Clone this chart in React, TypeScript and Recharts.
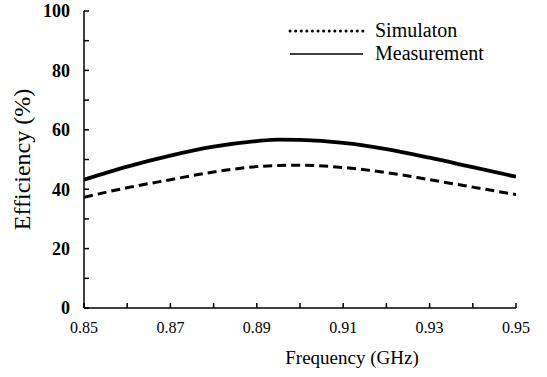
import { LineChart, Line, XAxis, YAxis } from "recharts"

const freqs = [0.85, 0.86, 0.87, 0.88, 0.89, 0.895, 0.9, 0.91, 0.92, 0.93, 0.94, 0.95]
const measurement = [43.2, 47.6, 51.3, 54.3, 56.2, 56.7, 56.6, 55.6, 53.5, 50.6, 47.4, 44.2]
const simulation = [37.3, 40.5, 43.2, 45.8, 47.6, 48.0, 48.1, 47.3, 45.6, 43.2, 40.7, 38.2]

const xTicks = [0.85, 0.86, 0.87, 0.88, 0.89, 0.9, 0.91, 0.92, 0.93, 0.94, 0.95]
const xMajor = [0.85, 0.87, 0.89, 0.91, 0.93, 0.95]
const yTicks = [0, 10, 20, 30, 40, 50, 60, 70, 80, 90, 100]
const yMajor = [0, 20, 40, 60, 80, 100]

const FONT = "Liberation Serif"

const data = freqs.map((f, i) => ({ f, meas: measurement[i], sim: simulation[i] }))

const isMajor = (list: number[], v: number) => list.some((m) => Math.abs(m - v) < 1e-6)

function LegendBox() {
  return (
    <svg width={220} height={50} style={{ position: "absolute", left: 288, top: 19 }}>
      <line x1={2} y1={12} x2={75} y2={12} stroke="#000" strokeWidth={3} strokeDasharray="0.1 5.5" strokeLinecap="round" />
      <text x={87} y={18} fontSize={20} fill="#000" fontFamily={FONT}>Simulaton</text>
      <line x1={2} y1={35} x2={75} y2={35} stroke="#000" strokeWidth={1.5} />
      <text x={87} y={41} fontSize={20} fill="#000" fontFamily={FONT}>Measurement</text>
    </svg>
  )
}

export default function App() {
  return (
    <div style={{ position: "absolute", left: 0, top: 0, width: 547, height: 377, background: "#fff", fontFamily: FONT }}>
      <LineChart width={547} height={377} data={data} margin={{ top: 11, right: 31, bottom: 0, left: 0 }}>
        <XAxis
          dataKey="f"
          type="number"
          domain={[0.85, 0.95]}
          ticks={xTicks}
          interval={0}
          allowDataOverflow
          height={69}
          stroke="#000"
          strokeWidth={1.5}
          tickSize={-5}
          tickMargin={19}
          tickFormatter={(v: number) => (isMajor(xMajor, v) ? v.toFixed(2) : "")}
          tick={{ fill: "#000", fontSize: 16, fontFamily: FONT }}
          label={{ value: "Frequency  (GHz)", position: "insideBottom", offset: 13, dx: 52, fill: "#000", fontSize: 19, fontFamily: FONT }}
        />
        <XAxis
          xAxisId="top"
          orientation="top"
          dataKey="f"
          type="number"
          domain={[0.85, 0.95]}
          ticks={xTicks}
          interval={0}
          height={0}
          stroke="#000"
          strokeWidth={1.5}
          tickSize={-5}
          tickFormatter={() => ""}
        />
        <YAxis
          domain={[0, 100]}
          ticks={yTicks}
          interval={0}
          width={84}
          stroke="#000"
          strokeWidth={1.5}
          tickSize={-5}
          tickMargin={19}
          tickFormatter={(v: number) => (isMajor(yMajor, v) ? String(v) : "")}
          tick={{ fill: "#000", fontSize: 18, fontWeight: 700, fontFamily: FONT }}
          label={{ value: "Efficiency (%)", angle: -90, position: "insideLeft", offset: 21, fill: "#000", fontSize: 24, fontFamily: FONT, style: { textAnchor: "middle" } }}
        />
        <YAxis
          yAxisId="right"
          orientation="right"
          domain={[0, 100]}
          ticks={yTicks}
          interval={0}
          width={0}
          stroke="#000"
          strokeWidth={1.5}
          tickSize={-5}
          tickFormatter={() => ""}
        />
        <Line
          dataKey="sim"
          name="Simulaton"
          type="monotone"
          stroke="#000"
          strokeWidth={3}
          strokeDasharray="9 5"
          dot={false}
          isAnimationActive={false}
        />
        <Line
          dataKey="meas"
          name="Measurement"
          type="monotone"
          stroke="#000"
          strokeWidth={3.8}
          dot={false}
          isAnimationActive={false}
        />
      </LineChart>
      <LegendBox />
    </div>
  )
}
